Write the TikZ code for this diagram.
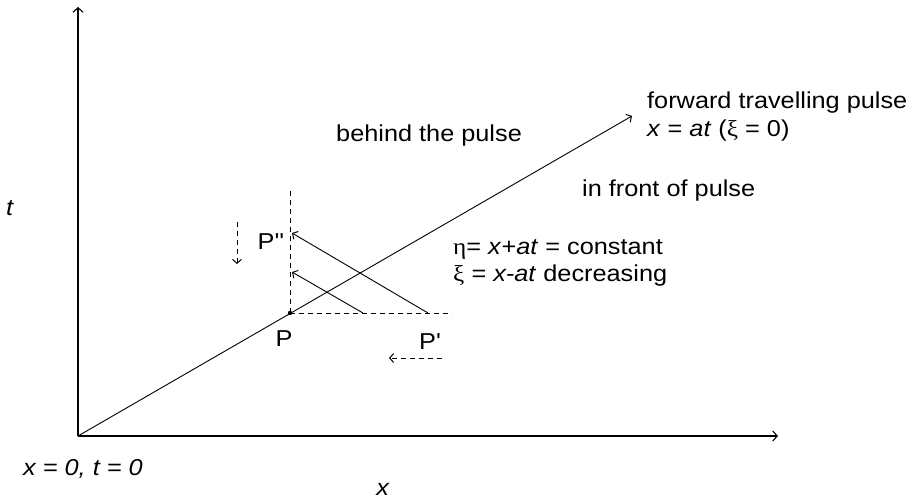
\documentclass[tikz,border=0pt]{standalone}
\usepackage{fontspec}
\setmainfont{Liberation Sans}[FakeStretch=1.1]
\newfontfamily\grk{Liberation Serif}[FakeStretch=1.1]
\newfontfamily\plainf{Liberation Sans}[FakeStretch=1.1,Ligatures=TeXOff]
\usetikzlibrary{arrows.meta}
\tikzset{
  ln/.style={line width=0.9pt},
  ax/.style={line width=1.1pt,-{Straight Barb[length=4.5pt,width=10pt,line width=1.1pt]}},
  tip/.style={-{Straight Barb[length=4pt,width=9pt,line width=1pt]}},
  dsh/.style={line width=0.9pt,dash pattern=on 5pt off 4pt},
  lbl/.style={inner sep=0pt,font=\fontsize{23}{27}\selectfont},
}
\begin{document}
\begin{tikzpicture}[x=1pt,y=-1pt]
\useasboundingbox (0,0) rectangle (915,502);
\coordinate (O) at (78,436);
\coordinate (Ytop) at (78,7);
\coordinate (Xend) at (778,436);
\coordinate (D) at (632,116);
\coordinate (P) at (290,313);
\coordinate (Vtop) at (290,190);
\coordinate (Hend) at (452,313);
\coordinate (A1s) at (363,313);
\coordinate (A1e) at (292,272);
\coordinate (A2s) at (428,313);
\coordinate (A2e) at (292,233);
\coordinate (Dd1) at (237,222);
\coordinate (Dd2) at (237,264);
\coordinate (Dl1) at (442,358);
\coordinate (Dl2) at (389,358);

\draw[ax] (O) -- (Ytop);
\draw[ax] (O) -- (Xend);
\draw[ln,tip] (O) -- (D);
\draw[dsh] (P) -- (Vtop);
\draw[dsh] (P) -- (Hend);
\draw[ln,tip] (A1s) -- (A1e);
\draw[ln,tip] (A2s) -- (A2e);
\draw[dsh,tip] (Dd1) -- (Dd2);
\draw[dsh,tip] (Dl1) -- (Dl2);
\fill (P) circle (2.2pt);

\node[lbl,anchor=base west] (fw) at (647,109) {forward travelling pulse};
\node[lbl,anchor=base west] (xat) at (647,137) {\textit{x} = \textit{at} ({\grk ξ} = 0)};
\node[lbl,anchor=base west] (beh) at (336,142) {behind the pulse};
\node[lbl,anchor=base west] (inf) at (582,197) {in front of pulse};
\node[lbl,anchor=base west] (eta) at (453,255) {{\grk η}= \textit{x}+\textit{at} = constant};
\node[lbl,anchor=base west] (xi) at (453,282) {{\grk ξ} = \textit{x-at} decreasing};
\node[lbl,anchor=base] (Ppp) at (271,250) {\plainf P''};
\node[lbl,anchor=base] (Pl) at (284,346) {P};
\node[lbl,anchor=base] (Pp) at (430,349) {\plainf P'};
\node[lbl,anchor=base] (tl) at (10,216) {\textit{t}};
\node[lbl,anchor=base] (xl) at (383,495) {\textit{x}};
\node[lbl,anchor=base west] (orig) at (23,475) {\textit{x = 0, t = 0}};
\end{tikzpicture}
\end{document}
